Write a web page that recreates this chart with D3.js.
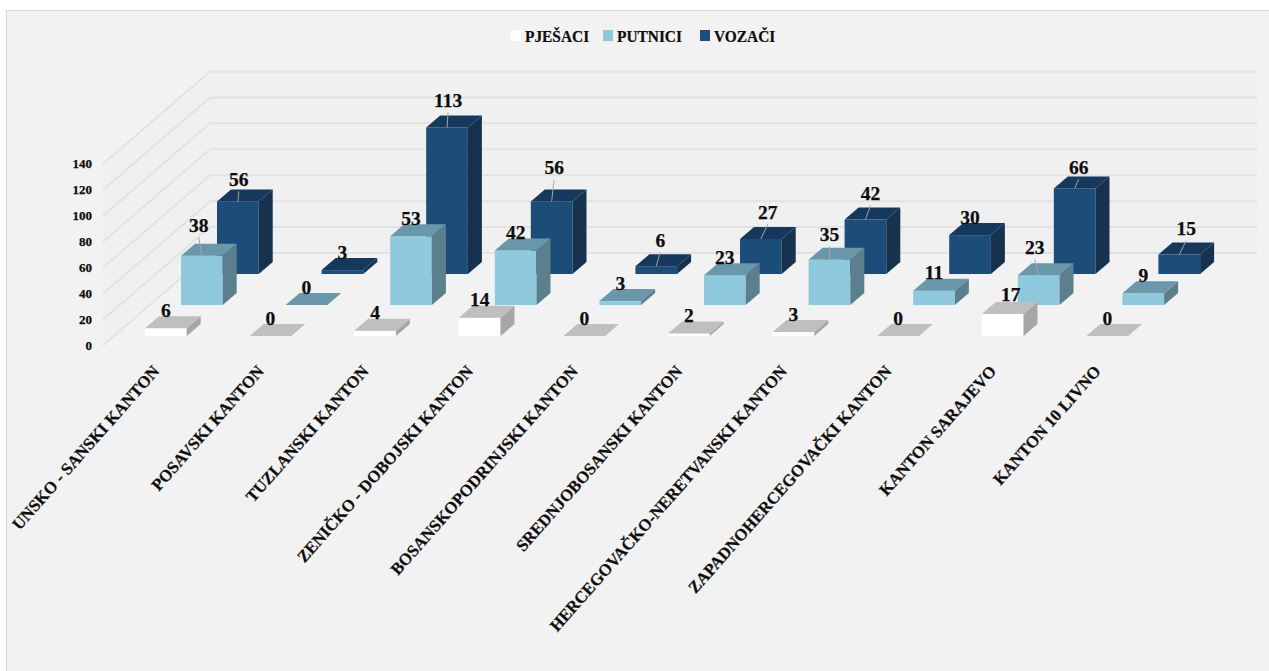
<!DOCTYPE html>
<html>
<head>
<meta charset="utf-8">
<script src="https://cdnjs.cloudflare.com/ajax/libs/d3/7.8.5/d3.min.js"></script>
<style>
html,body{margin:0;padding:0;background:#fff;overflow:hidden}
svg{display:block}
text{font-family:"Liberation Serif",serif;font-weight:700;fill:#0d0d0d;stroke:#0d0d0d;stroke-width:0.25px}
</style>
</head>
<body>
<svg id="chart" width="1269" height="671"></svg>
<script>
const categories = ["UNSKO - SANSKI KANTON","POSAVSKI KANTON","TUZLANSKI KANTON","ZENIČKO - DOBOJSKI KANTON","BOSANSKOPODRINJSKI KANTON","SREDNJOBOSANSKI KANTON","HERCEGOVAČKO-NERETVANSKI KANTON","ZAPADNOHERCEGOVAČKI KANTON","KANTON SARAJEVO","KANTON 10 LIVNO"];
const seriesNames = ["PJEŠACI","PUTNICI","VOZAČI"];
const pjesaci = [6,0,4,14,0,2,3,0,17,0];
const putnici = [38,0,53,42,3,23,35,11,23,9];
const vozaci = [56,3,113,56,6,27,42,30,66,15];
const yTicks = [0,20,40,60,80,100,120,140];

const faces = {
  "PJEŠACI": {front:"#ffffff", top:"#bfbfbf", side:"#a6a6a6"},
  "PUTNICI": {front:"#8fc9de", top:"#6b98aa", side:"#5b7f8e"},
  "VOZAČI":  {front:"#1e4e79", top:"#17375c", side:"#15314f"}
};
// label nudges [series, category, dx, dy] for labels moved off the default spot; these get leader lines
const labelNudges = [
  [2,0,1,-4],[2,2,1,-9],[2,3,2.5,-16],[2,4,4,-8],[2,5,7,-9],[2,6,5,-8],[2,8,4,-3],[2,9,7,-8],
  [1,0,-3,-12],[1,6,0,-7],[1,8,-4,-10],
  [0,8,8,-2,false]
];

const W = 1269, H = 671;
const svg = d3.select("#chart");
const values = [pjesaci, putnici, vozaci];

const barW = 41.7, step = 104.6, x0 = 145;
const x = d3.scaleBand().domain(categories)
  .range([x0, x0 + 9*step + barW]).paddingInner(1 - barW/step).paddingOuter(0);
const rowX = d3.scalePoint().domain(seriesNames).range([0,72]);
const rowY = d3.scalePoint().domain(seriesNames).range([336,274]);
const h = d3.scaleLinear().domain([0,140]).range([0,181.5]);
const depthX = 14, depthY = 12;

// background & frame
svg.append("rect").attr("x",6).attr("y",10).attr("width",W).attr("height",H).attr("fill","#f2f2f2");
svg.append("path").attr("d",`M6.5,${H}V10.5H${W}`).attr("fill","none").attr("stroke","#d9d9d9").attr("stroke-width",1.2);

// walls
const wall = {fx:103, fy:345.5, bx:210, by:253, right:1257};
const g = svg.append("g");
g.append("path")
  .attr("d",`M${wall.fx},${wall.fy-h(140)}L${wall.bx},${wall.by-h(140)}H${wall.right}V${wall.by}H${wall.bx}L${wall.fx},${wall.fy}Z`)
  .attr("fill","#f0f0f0");
const gridG = svg.append("g").attr("filter","url(#soft)");
const defs = svg.append("defs");
defs.append("filter").attr("id","soft").attr("x","-5%").attr("y","-5%").attr("width","110%").attr("height","110%")
  .append("feGaussianBlur").attr("stdDeviation",0.5);
gridG.selectAll("path").data(yTicks).join("path")
  .attr("d",v=>`M${wall.fx},${wall.fy-h(v)}L${wall.bx},${wall.by-h(v)}H${wall.right}`)
  .attr("fill","none").attr("stroke","#e2e2e2").attr("stroke-width",2);

// axis labels
svg.append("g").selectAll("text").data(yTicks).join("text")
  .attr("x",92).attr("y",v=>wall.fy-h(v)).attr("dy","0.34em")
  .attr("text-anchor","end").attr("font-size",13).text(d=>d);

// bars (back row first)
const barsG = svg.append("g").attr("filter","url(#soft)");
const rows = seriesNames.map((s,i)=>i).reverse();
rows.forEach(si=>{
  const s = seriesNames[si], col = faces[s];
  categories.forEach((c,ci)=>{
    const v = values[si][ci];
    const l = x(c)+rowX(s), r = l+x.bandwidth(), b = rowY(s), t = b-h(v);
    const bar = barsG.append("g");
    if(v>0){
      bar.append("rect").attr("x",l).attr("y",t).attr("width",r-l).attr("height",b-t).attr("fill",col.front);
      bar.append("path").attr("d",`M${r},${t}L${r+depthX},${t-depthY}V${b-depthY}L${r},${b}Z`).attr("fill",col.side);
    }
    bar.append("path").attr("d",`M${l},${t}L${l+depthX},${t-depthY}H${r+depthX}L${r},${t}Z`).attr("fill",col.top);
  });
});

// data labels + leader lines
const nudgeOf = (si,ci)=>labelNudges.find(n=>n[0]===si&&n[1]===ci);
const labelG = svg.append("g");
seriesNames.forEach((s,si)=>{
  categories.forEach((c,ci)=>{
    const v = values[si][ci];
    const cx = x(c)+rowX(s)+x.bandwidth()/2, top = rowY(s)-h(v);
    const n = nudgeOf(si,ci);
    const lx = cx+(n?n[2]:0), ly = top-18+(n?n[3]:0);
    if(n && n[4]!==false){
      labelG.append("line").attr("x1",lx).attr("y1",ly+12).attr("x2",cx).attr("y2",top)
        .attr("stroke","#a6a6a6").attr("stroke-width",1);
    }
    labelG.append("text").attr("x",lx).attr("y",ly).attr("dy","0.34em")
      .attr("text-anchor","middle").attr("font-size",19.5).text(v);
  });
});

// category labels
svg.append("g").selectAll("text").data(categories).join("text")
  .attr("text-anchor","end").attr("font-size",16.7)
  .attr("transform",c=>`translate(${x(c)+11},368) rotate(-48.5)`)
  .attr("dy","0.34em").text(d=>d);

// legend
const legendX = d3.scaleOrdinal().domain(seriesNames).range([511,603,700]);
const legend = svg.append("g").selectAll("g").data(seriesNames).join("g")
  .attr("transform",s=>`translate(${legendX(s)},30)`);
legend.append("rect").attr("width",10).attr("height",11).attr("fill",s=>faces[s].front);
legend.append("text").attr("transform","translate(14,11.5) scale(0.88,1)").attr("font-size",17.5).text(d=>d);
</script>
</body>
</html>
